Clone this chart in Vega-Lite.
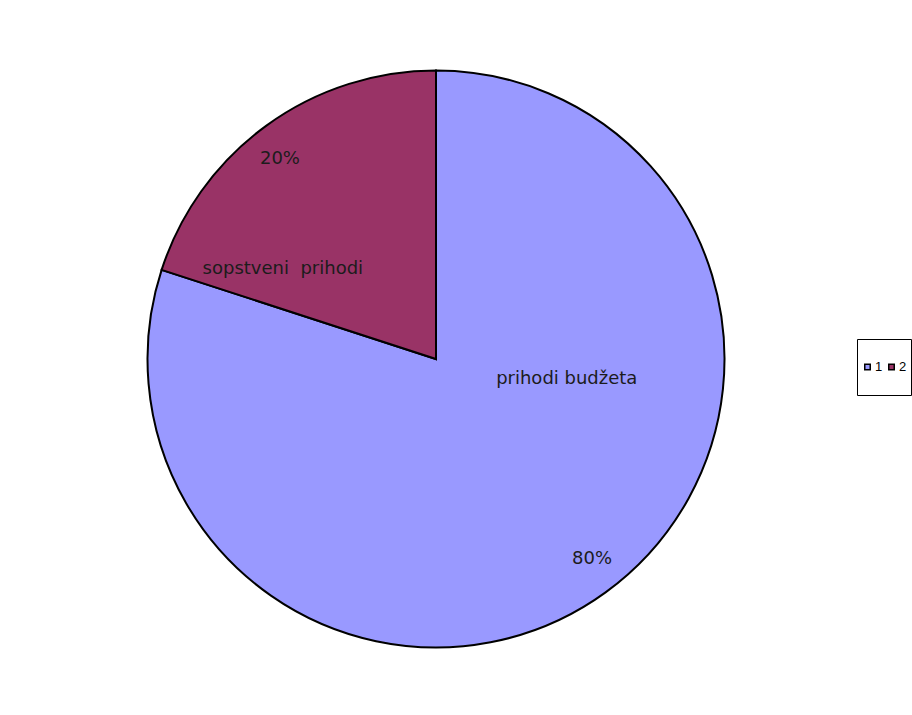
{
  "$schema": "https://vega.github.io/schema/vega-lite/v6.json",
  "width": 862,
  "height": 712,
  "padding": {"left": 5, "top": 3, "right": 0, "bottom": 0},
  "background": "white",
  "config": {
    "view": {"stroke": null},
    "legend": {
      "orient": "none",
      "legendX": 852,
      "legendY": 336,
      "direction": "horizontal",
      "symbolType": "square",
      "symbolSize": 30,
      "symbolStrokeColor": "black",
      "symbolStrokeWidth": 1.5,
      "symbolOpacity": 1,
      "labelFont": "Liberation Sans",
      "labelFontSize": 13,
      "labelColor": "black",
      "labelOffset": 1,
      "columnPadding": 2,
      "padding": 4,
      "clipHeight": 48,
      "strokeColor": "black"
    }
  },
  "data": {
    "values": [
      {"serija": "1", "kategorija": "prihodi budžeta", "udeo": 0.8},
      {"serija": "2", "kategorija": "sopstveni\u00a0 prihodi", "udeo": 0.2}
    ]
  },
  "resolve": {"scale": {"theta": "independent"}},
  "layer": [
    {
      "mark": {"type": "arc", "outerRadius": 288.5, "stroke": "black", "strokeWidth": 2},
      "encoding": {
        "theta": {"field": "udeo", "type": "quantitative", "stack": true},
        "order": {"field": "serija", "type": "ordinal", "sort": "ascending"},
        "color": {
          "field": "serija",
          "type": "nominal",
          "scale": {"domain": ["1", "2"], "range": ["#9999FF", "#993366"]},
          "legend": {"title": null}
        }
      }
    },
    {
      "mark": {"type": "text", "font": "DejaVu Sans", "fontSize": 18, "fill": "#1c1c1c", "radius": 254, "align": "center", "baseline": "middle"},
      "encoding": {
        "theta": {"field": "udeo", "type": "quantitative", "stack": true, "scale": {"range": [-0.0332, 6.25]}},
        "order": {"field": "serija", "type": "ordinal", "sort": "ascending"},
        "detail": {"field": "serija", "type": "nominal"},
        "text": {"field": "udeo", "type": "quantitative", "format": ".0%"}
      }
    },
    {
      "mark": {"type": "text", "font": "DejaVu Sans", "fontSize": 18, "fill": "#1c1c1c", "radius": 150, "dx": -65, "dy": 31, "align": "center", "baseline": "middle"},
      "encoding": {
        "theta": {"field": "udeo", "type": "quantitative", "stack": true},
        "order": {"field": "serija", "type": "ordinal", "sort": "ascending"},
        "detail": {"field": "serija", "type": "nominal"},
        "text": {"condition": {"test": "datum.serija === '2'", "field": "kategorija", "type": "nominal"}, "value": ""}
      }
    },
    {
      "mark": {"type": "text", "font": "DejaVu Sans", "fontSize": 18, "fill": "#1c1c1c", "radius": 100, "dx": 72, "dy": -61, "align": "center", "baseline": "middle"},
      "encoding": {
        "theta": {"field": "udeo", "type": "quantitative", "stack": true},
        "order": {"field": "serija", "type": "ordinal", "sort": "ascending"},
        "detail": {"field": "serija", "type": "nominal"},
        "text": {"condition": {"test": "datum.serija === '1'", "field": "kategorija", "type": "nominal"}, "value": ""}
      }
    }
  ]
}
